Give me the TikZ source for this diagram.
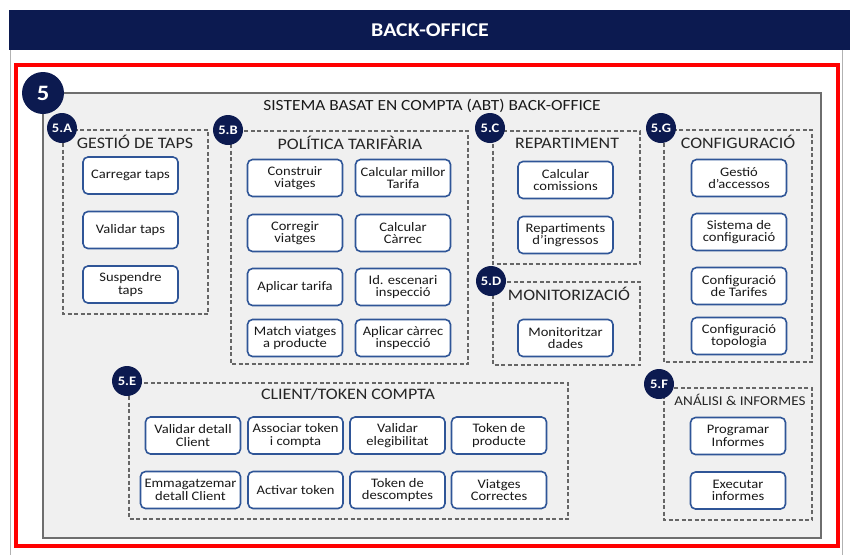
\documentclass[tikz,border=0pt]{standalone}
\usepackage{fontspec}
\setmainfont[FakeStretch=1.12]{Carlito}
\definecolor{navy}{RGB}{12,26,80}
\definecolor{boxblue}{RGB}{47,85,151}
\definecolor{panelgray}{RGB}{240,240,240}
\definecolor{framegray}{RGB}{110,110,110}
\definecolor{redframe}{RGB}{255,0,0}

\begin{document}
\begin{tikzpicture}[x=1pt, y=-1pt,
		task/.style={draw=boxblue, line width=1.6pt, rounded corners=5pt, fill=white, align=center, minimum width=95pt, minimum height=37pt, inner sep=0pt, text=black!90, font=\fontsize{13}{12.5}\selectfont},
		badge/.style={circle, fill=navy, text=white, minimum size=30pt, inner sep=0pt, font=\fontsize{13}{13}\selectfont\bfseries},
		group/.style={draw=black!60, line width=1.3pt, dash pattern=on 4pt off 2.5pt},
		grouptitle/.style={text=black!85, font=\fontsize{16}{16}\selectfont}]

				\useasboundingbox (0,0) rectangle (850,555);

				\fill[navy] (9,10) rectangle (850,50);
				\node[text=white, font=\fontsize{19.5}{19.5}\selectfont\bfseries] (header) at (430,30) {BACK-OFFICE};
				\draw[black!30, line width=0.8pt] (10,50) -- (10,555);
				\draw[black!30, line width=0.8pt] (842,50) -- (842,555);

				\draw[redframe, line width=3.5pt] (16,65) rectangle (838,546);

				\draw[framegray, line width=1.8pt, fill=panelgray] (43,93) rectangle (821,538);
				\node[circle, fill=navy, text=white, minimum size=42pt, inner sep=0pt, font=\fontsize{22}{22}\selectfont\bfseries] (five) at (43,93) {5};
				\node[text=black!90, font=\fontsize{15.5}{15.5}\selectfont] (system) at (432,106) {SISTEMA BASAT EN COMPTA (ABT) BACK-OFFICE};

				\draw[group] (63,130) rectangle (208,314);
				\draw[group] (231,131) rectangle (468,364);
				\draw[group] (493,131) rectangle (640,264);
				\draw[group] (493,282) rectangle (640,365);
				\draw[group] (664,130) rectangle (812,362);
				\draw[group] (129,383) rectangle (568,519);
				\draw[group] (664,388) rectangle (812,520);

				\node[badge] (b5A) at (62,128) {5.A};
				\node[badge] (b5B) at (228,130) {5.B};
				\node[badge] (b5C) at (490,128) {5.C};
				\node[badge] (b5D) at (491,281) {5.D};
				\node[badge] (b5G) at (661,128) {5.G};
				\node[badge] (b5E) at (127,381) {5.E};
				\node[badge] (b5F) at (659,384) {5.F};

				\node[grouptitle] (tA) at (135,142) {GESTIÓ DE TAPS};
				\node[grouptitle] (tB) at (350,143) {POLÍTICA TARIFÀRIA};
				\node[grouptitle] (tC) at (567,143) {REPARTIMENT};
				\node[grouptitle] (tD) at (569,294) {MONITORIZACIÓ};
				\node[grouptitle] (tG) at (738,142) {CONFIGURACIÓ};
				\node[grouptitle] (tE) at (348,394) {CLIENT/TOKEN COMPTA};
				\node[grouptitle, font=\fontsize{13.5}{13.5}\selectfont] (tF) at (740,400) {ANÁLISI \& INFORMES};

				\node[task] (carregar) at (130.5,175.5) {Carregar taps};
				\node[task] (validar) at (130.5,230) {Validar taps};
				\node[task] (suspendre) at (130.5,284.5) {Suspendre\\taps};

				\node[task] (construir) at (295,178) {Construir\\viatges};
				\node[task] (corregir) at (295,233) {Corregir\\viatges};
				\node[task] (aplicar) at (295,287) {Aplicar tarifa};
				\node[task] (match) at (295,338) {Match viatges\\a producte};
				\node[task] (millor) at (403,178) {Calcular millor\\Tarifa};
				\node[task] (carrec) at (403,233) {Calcular\\Càrrec};
				\node[task] (escenari) at (403,287) {Id. escenari\\inspecció};
				\node[task] (inspeccio) at (403,338) {Aplicar càrrec\\inspecció};

				\node[task] (comissions) at (565.5,180) {Calcular\\comissions};
				\node[task] (ingressos) at (565.5,235) {Repartiments\\d'ingressos};
				\node[task] (dades) at (565.5,338) {Monitoritzar\\dades};

				\node[task] (accessos) at (739,178) {Gestió\\d'accessos};
				\node[task] (sistema) at (739,232) {Sistema de\\configuració};
				\node[task] (tarifes) at (739,286) {Configuració\\de Tarifes};
				\node[task] (topologia) at (739,336) {Configuració\\topologia};

				\node[task] (detall) at (193,435.5) {Validar detall\\Client};
				\node[task] (associar) at (295.5,435.5) {Associar token\\i compta};
				\node[task] (elegibilitat) at (397.5,435.5) {Validar\\elegibilitat};
				\node[task] (producte) at (499,435.5) {Token de\\producte};
				\node[task, minimum width=100pt] (emmagatzemar) at (190.5,490) {Emmagatzemar\\detall Client};
				\node[task] (activar) at (295.5,490) {Activar token};
				\node[task] (descomptes) at (397.5,490) {Token de\\descomptes};
				\node[task] (correctes) at (499,490) {Viatges\\Correctes};

				\node[task] (programar) at (738,436) {Programar\\Informes};
				\node[task] (executar) at (738,490.5) {Executar\\informes};

\end{tikzpicture}
\end{document}
